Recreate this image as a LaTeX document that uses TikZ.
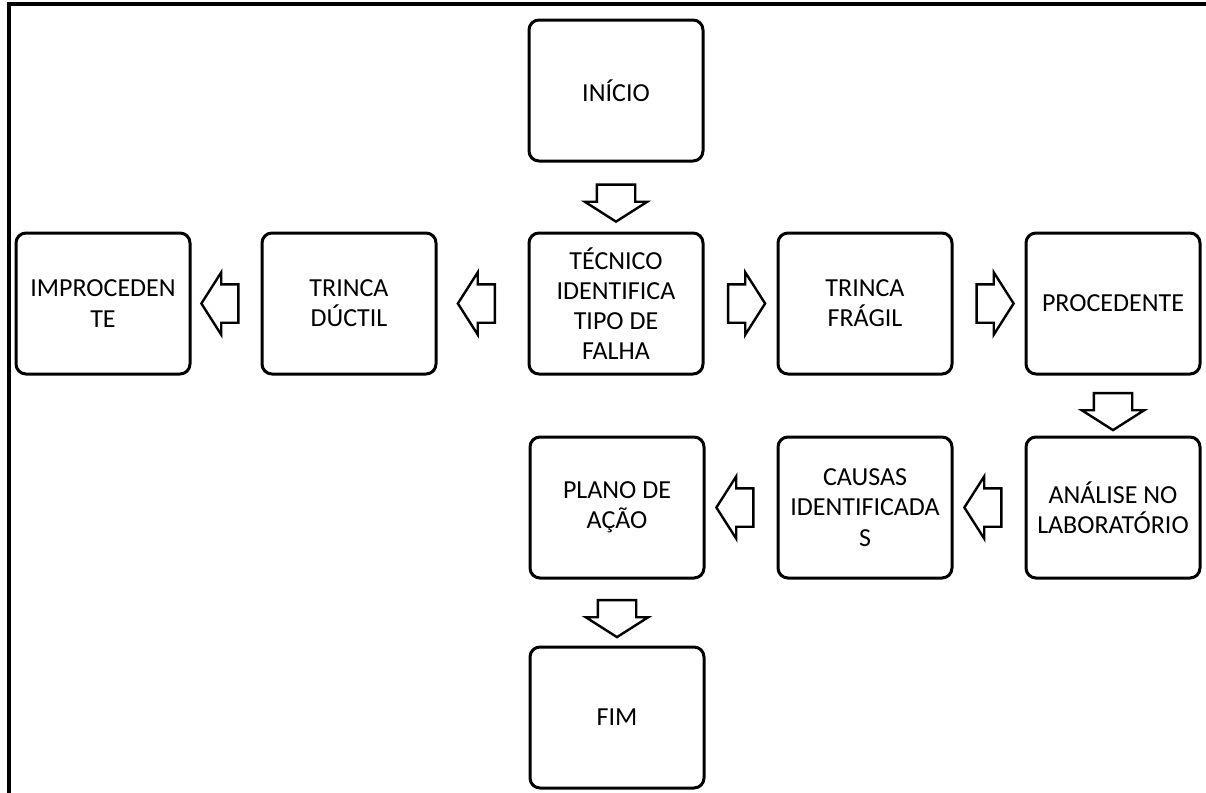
\documentclass[tikz,border=0pt]{standalone}
\usepackage{fontspec}
\setmainfont{Carlito}
\usepackage{tikz}
\usetikzlibrary{positioning, shapes.arrows}

\begin{document}
\begin{tikzpicture}[
  node distance=35.5pt and 35.5pt,
  box/.style={
    rectangle, rounded corners=5pt, draw=black, fill=white,
    minimum width=87pt, minimum height=70.5pt,
    font=\fontsize{13pt}{15.1pt}\selectfont, align=center,
    inner sep=0pt, line width=1.5pt,
  },
  fatarrow/.style={
    single arrow, draw=black, fill=white, line width=1.2pt,
    sloped, allow upside down,
    inner xsep=0pt, inner ysep=9pt, minimum height=18.5pt,
    single arrow head extend=6pt, single arrow tip angle=115,
  },
  frameline/.style={line width=2pt, black},
]
% Page and frame
\useasboundingbox (0,0) rectangle (603pt,-396.5pt);
\coordinate (frameTR) at (603pt,-2.1pt);
\coordinate (frameTL) at (4.5pt,-2.1pt);
\coordinate (frameBL) at (4.5pt,-396.5pt);
\draw[frameline] (frameTR) -- (frameTL) -- (frameBL);

% Main row
\node[box] (tecnico) at (308pt,-151.75pt) {TÉCNICO\\IDENTIFICA\\TIPO DE\\FALHA};
\node[box, above=34.5pt of tecnico] (inicio) {INÍCIO};
\node[box, right=36pt of tecnico] (fragil) {TRINCA\\FRÁGIL};
\node[box, right=of fragil] (procedente) {PROCEDENTE};
\node[box, left=45pt of tecnico] (ductil) {TRINCA\\DÚCTIL};
\node[box, left=34.5pt of ductil] (improcedente) {IMPROCEDEN\\TE};

% Lower row
\node[box, below=30pt of procedente] (analise) {ANÁLISE NO\\LABORATÓRIO};
\node[box, left=of analise] (causas) {CAUSAS\\IDENTIFICADA\\S};
\node[box, left=of causas] (plano) {PLANO DE\\AÇÃO};
\node[box, below=33pt of plano] (fim) {FIM};

% Block arrows
\path (inicio) -- node[fatarrow] {} (tecnico);
\path (tecnico) -- node[fatarrow] {} (fragil);
\path (fragil) -- node[fatarrow] {} (procedente);
\path (tecnico) -- node[fatarrow] {} (ductil);
\path (ductil) -- node[fatarrow] {} (improcedente);
\path (procedente) -- node[fatarrow] {} (analise);
\path (analise) -- node[fatarrow] {} (causas);
\path (causas) -- node[fatarrow] {} (plano);
\path (plano) -- node[fatarrow] {} (fim);

\end{tikzpicture}
\end{document}
